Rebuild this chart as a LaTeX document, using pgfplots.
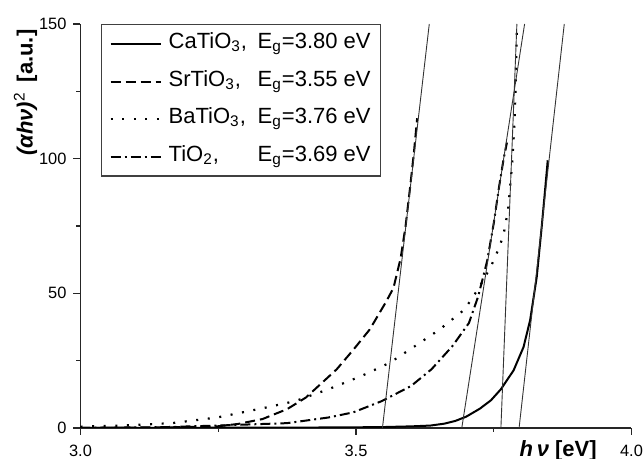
\documentclass[border=0pt]{standalone}
\usepackage{fontspec}
\setmainfont{Liberation Sans}
\usepackage{pgfplots}
\pgfplotsset{compat=1.18}
\begin{document}
\begin{tikzpicture}
\begin{axis}[
  scale only axis, width=275.5pt, height=202pt,
  xmin=3, xmax=4, ymin=0, ymax=150,
  axis lines=left,
  axis line style={-, line width=0.75pt, black!85},
  xtick={3,3.5,4}, minor xtick={3.25,3.75},
  ytick={0,50,100,150}, minor ytick={25,75,125},
  tick align=outside,
  tick style={line width=0.7pt, black!85},
  major tick length=3.5pt, minor tick length=2pt,
  xticklabel style={/pgf/number format/fixed, /pgf/number format/fixed zerofill, /pgf/number format/precision=1, yshift=-1.5pt},
  ticklabel style={font=\fontsize{8.2}{10}\selectfont},
  /pgf/number format/assume math mode=true,
  xlabel={\textbf{\textit{h\,ν}} \textbf{[eV]}},
  xlabel style={at={(axis description cs:0.867,-0.057)}, anchor=center, font=\fontsize{11}{13}\selectfont},
  ylabel={\textbf{\textit{(αhν)}}\textsuperscript{2}\hspace{0.45em}\textbf{[a.u.]}},
  ylabel style={at={(axis description cs:-0.066,0.830)}, anchor=south, font=\fontsize{11}{13}\selectfont},
  legend style={at={(axis description cs:0.037,1)}, anchor=north west,
    draw=black!75, line width=0.6pt, font=\fontsize{11}{13}\selectfont,
    inner xsep=4pt, inner ysep=3pt,
    nodes={inner sep=1pt, text height=8pt, text depth=3.5pt},
    row sep=5.25pt},
  legend cell align=left,
  legend image code/.code={\draw[#1] (0pt,0pt) -- (25pt,0pt); \path (27.5pt,0pt);},
]
% CaTiO3
\addplot[black, line width=1pt] coordinates {
(3.00,0.05)(3.20,0.08)(3.40,0.15)(3.50,0.25)(3.55,0.35)(3.60,0.6)(3.635,0.9)(3.66,1.6)(3.68,2.6)(3.70,4.2)(3.725,7.2)(3.745,10.3)(3.763,14.4)(3.786,21.4)(3.804,30)(3.816,40)(3.828,56)(3.837,74.6)(3.843,88)(3.848,99.4)};
\addlegendentry{\makebox[44.5pt][l]{CaTiO\textsubscript{3},}E\textsubscript{g}=3.80 eV}
% SrTiO3
\addplot[black, line width=1pt, dash pattern=on 5pt off 2.5pt] coordinates {
(3.00,0.05)(3.15,0.2)(3.248,0.6)(3.286,1.5)(3.33,3.3)(3.375,7)(3.409,11.3)(3.432,15.6)(3.465,21.8)(3.495,29)(3.525,36.6)(3.555,47)(3.568,52)(3.581,63)(3.59,75)(3.598,89)(3.605,102)(3.611,115)};
\addlegendentry{\makebox[44.5pt][l]{SrTiO\textsubscript{3},}E\textsubscript{g}=3.55 eV}
% BaTiO3
\addplot[black, line width=1.1pt, dash pattern=on 1pt off 4.8pt] coordinates {
(3.00,0.5)(3.076,0.9)(3.166,1.8)(3.248,3.9)(3.33,7.3)(3.39,10)(3.45,14.4)(3.51,19.3)(3.562,24.3)(3.607,30.4)(3.652,36.6)(3.697,44)(3.723,52)(3.745,60)(3.76,67)(3.768,72)(3.776,81)(3.783,97)(3.788,114)(3.790,130)(3.792,148)};
\addlegendentry{\makebox[44.5pt][l]{BaTiO\textsubscript{3},}E\textsubscript{g}=3.76 eV}
% TiO2
\addplot[black, line width=1pt, dash pattern=on 5pt off 2pt on 1pt off 2pt] coordinates {
(3.00,0.05)(3.15,0.3)(3.248,0.9)(3.375,1.8)(3.45,3.9)(3.495,5.8)(3.547,10)(3.6,15.6)(3.637,21.8)(3.675,30.4)(3.705,39)(3.722,49)(3.738,62)(3.750,76)(3.760,90)(3.768,100)(3.774,106)};
\addlegendentry{\makebox[44.5pt][l]{TiO\textsubscript{2},}E\textsubscript{g}=3.69 eV}
% tangent lines
\addplot[black!80, line width=0.45pt, forget plot] coordinates {(3.548,0)(3.633,150)};
\addplot[black!80, line width=0.45pt, forget plot] coordinates {(3.692,0)(3.806,150)};
\addplot[black!80, line width=0.45pt, forget plot] coordinates {(3.763,0)(3.792,150)};
\addplot[black!80, line width=0.45pt, forget plot] coordinates {(3.796,0)(3.878,150)};
\end{axis}
\pgfresetboundingbox
\path[use as bounding box] (current axis.south west) ++(-40.25pt,-15.5pt) rectangle ++(322pt,229.5pt);
\end{tikzpicture}
\end{document}
